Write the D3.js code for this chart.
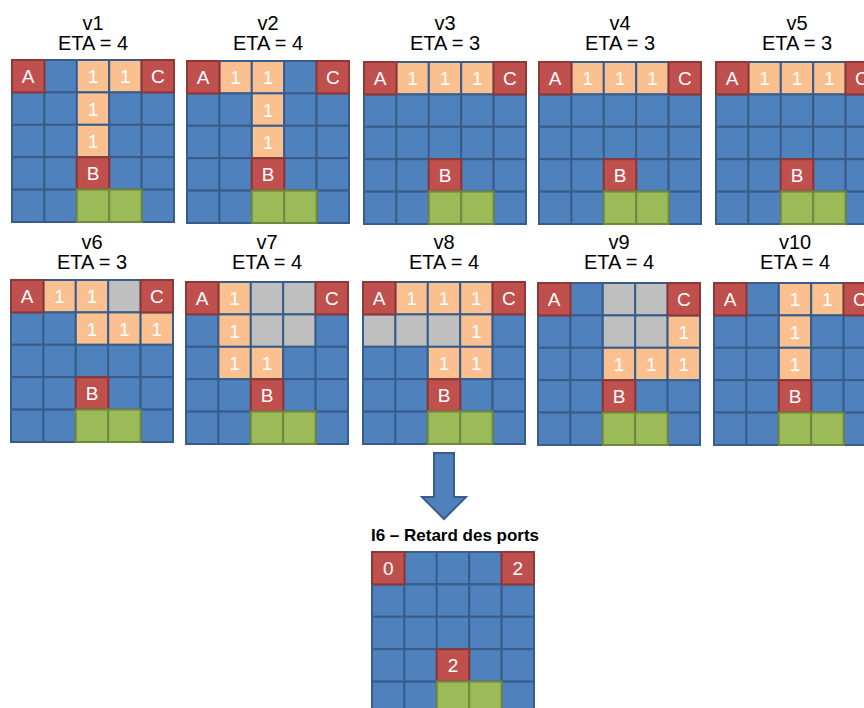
<!DOCTYPE html>
<html>
<head>
<meta charset="utf-8">
<script src="https://cdn.jsdelivr.net/npm/d3@7"></script>
<style>
    body { margin: 0; background: #fff; }
    svg { display: block; }
    text { font-family: "Liberation Sans", Arial, sans-serif; }
</style>
</head>
<body>
<svg id="chart" width="864" height="708"></svg>
<script>
// one 5x5 grid per variant: A/B/C ports, 1 = path, g = blocked, G = target, . = free
const panelNames = ["v1", "v2", "v3", "v4", "v5", "v6", "v7", "v8", "v9", "v10"];
const etaValues = [4, 4, 3, 3, 3, 3, 4, 4, 4, 4];
const panelGrids = [
    ["A.11C", "..1..", "..1..", "..B..", "..GG."],
    ["A11.C", "..1..", "..1..", "..B..", "..GG."],
    ["A111C", ".....", ".....", "..B..", "..GG."],
    ["A111C", ".....", ".....", "..B..", "..GG."],
    ["A111C", ".....", ".....", "..B..", "..GG."],
    ["A11gC", "..111", ".....", "..B..", "..GG."],
    ["A1ggC", ".1gg.", ".11..", "..B..", "..GG."],
    ["A111C", "ggg1.", "..11.", "..B..", "..GG."],
    ["A.ggC", "..gg1", "..111", "..B..", "..GG."],
    ["A.11C", "..1..", "..1..", "..B..", "..GG."]
];
const resultTitle = "I6 \u2013 Retard des ports";
const resultGrid = ["0...2", ".....", ".....", "..2..", "..GG."];

const colors = {
    blue: "#4f81bd", blueLine: "#385d8a",
    red: "#c0504d", redLine: "#8c3836",
    path: "#fac090", grey: "#bfbfbf",
    green: "#9bbb59", greenLine: "#71893f"
};

const svg = d3.select("#chart");
svg.append("rect").attr("width", 864).attr("height", 708).attr("fill", "#fff");

const cellSize = 32.4;
const band = d3.scaleBand().domain(d3.range(5)).range([0, cellSize * 5]);

// panel placement on the page
const panelX = [12, 187, 364, 539, 716, 11, 186, 363, 538, 714];
const panelY = [60, 61, 62, 62, 62, 280, 282, 282, 283, 283];
const titleBase = [30, 249];

function cellStyle(ch) {
    if (ch === ".") return { fill: colors.blue, stroke: colors.blueLine, layer: 0 };
    if (ch === "1") return { fill: colors.path, stroke: colors.blueLine, layer: 0, label: "1" };
    if (ch === "g") return { fill: colors.grey, stroke: colors.blueLine, layer: 0 };
    if (ch === "G") return { fill: colors.green, stroke: colors.greenLine, layer: 1 };
    return { fill: colors.red, stroke: colors.redLine, layer: 1, label: ch };
}

function drawGrid(g, rows) {
    let cells = [];
    rows.forEach((row, r) => row.split("").forEach((ch, c) => {
        cells.push(Object.assign({ r, c }, cellStyle(ch)));
    }));
    cells.sort((a, b) => a.layer - b.layer);

    g.selectAll("rect.cell")
        .data(cells)
        .enter().append("rect")
        .attr("class", "cell")
        .attr("x", d => band(d.c))
        .attr("y", d => band(d.r))
        .attr("width", band.bandwidth())
        .attr("height", band.bandwidth())
        .attr("fill", d => d.fill)
        .attr("stroke", d => d.stroke)
        .attr("stroke-width", 2);

    g.selectAll("text.lbl")
        .data(cells.filter(d => d.label))
        .enter().append("text")
        .attr("class", "lbl")
        .attr("x", d => band(d.c) + band.bandwidth() / 2)
        .attr("y", d => band(d.r) + band.bandwidth() / 2 + 7)
        .attr("text-anchor", "middle")
        .attr("fill", "#fff")
        .attr("font-size", 19)
        .text(d => d.label);
}

panelGrids.forEach((rows, i) => {
    let x0 = panelX[i], y0 = panelY[i];
    let cx = x0 + cellSize * 2.5;
    let base = titleBase[Math.floor(i / 5)];

    svg.append("text")
        .attr("x", cx).attr("y", base)
        .attr("text-anchor", "middle")
        .attr("font-size", 20).attr("fill", "#000")
        .text(panelNames[i]);
    svg.append("text")
        .attr("x", cx).attr("y", base + 20)
        .attr("text-anchor", "middle")
        .attr("font-size", 20).attr("fill", "#000")
        .text("ETA = " + etaValues[i]);

    drawGrid(svg.append("g").attr("transform", "translate(" + x0 + "," + y0 + ")"), rows);
});

// down arrow
const ax = 444, aTop = 453;
const arrowPts = [[-10, 0], [10, 0], [10, 44], [22, 44], [0, 66], [-22, 44], [-10, 44]];
svg.append("path")
    .attr("d", d3.line()(arrowPts.map(p => [ax + p[0], aTop + p[1]])) + "Z")
    .attr("fill", colors.blue)
    .attr("stroke", colors.blueLine)
    .attr("stroke-width", 2);

// result grid
const rx = 372, ry = 552;
svg.append("text")
    .attr("x", rx + cellSize * 2.5 + 2).attr("y", 541)
    .attr("text-anchor", "middle")
    .attr("font-size", 17).attr("font-weight", "bold").attr("fill", "#000")
    .text(resultTitle);
drawGrid(svg.append("g").attr("transform", "translate(" + rx + "," + ry + ")"), resultGrid);
</script>
</body>
</html>
